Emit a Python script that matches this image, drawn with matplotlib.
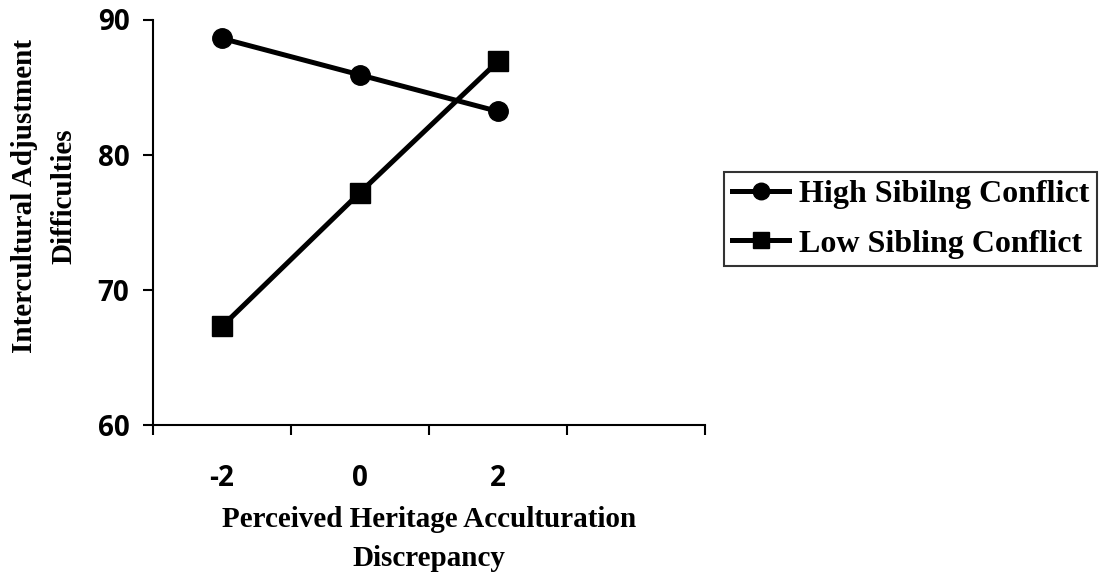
import matplotlib
matplotlib.use("Agg")
import matplotlib.pyplot as plt

# data
categories = ["-2", "0", "2"]
high_conflict = [88.6, 85.9, 83.2]
low_conflict = [67.3, 77.2, 86.9]
y_ticks = [60, 70, 80, 90]

serif = "Liberation Serif"
sans = "Open Sans"

fig = plt.figure(figsize=(11.12, 5.81), dpi=100)
ax = fig.add_axes([153 / 1112, 1 - 425 / 581, (705 - 153) / 1112, (425 - 19.5) / 581])

x = list(range(1, len(categories) + 1))
ax.plot(x, high_conflict, color="black", lw=3.6, marker="o", ms=14,
        label="High Sibilng Conflict")
ax.plot(x, low_conflict, color="black", lw=3.6, marker="s", ms=14,
        label="Low Sibling Conflict")

# category axis with one empty slot, ticks between categories
ax.set_xlim(0.5, 4.5)
ax.set_xticks([0.5, 1.5, 2.5, 3.5, 4.5])
ax.set_xticklabels([])
ax.set_xticks(x, minor=True)
ax.set_xticklabels(categories, minor=True, fontfamily=sans,
                   fontweight="bold", fontsize=20)
ax.tick_params(axis="x", which="minor", length=0, pad=28)
ax.tick_params(axis="x", which="major", length=7, width=1.5, direction="out")

ax.set_ylim(60, 90)
ax.set_yticks(y_ticks)
ax.set_yticklabels([str(v) for v in y_ticks], fontfamily=sans,
                   fontweight="bold", fontsize=20)
ax.tick_params(axis="y", length=7, width=1.5, direction="out", pad=10)

for side in ["top", "right"]:
    ax.spines[side].set_visible(False)
for side in ["left", "bottom"]:
    ax.spines[side].set_linewidth(1.5)

fig.text(429 / 1112, 1 - 539 / 581, "Perceived Heritage Acculturation\nDiscrepancy",
         ha="center", va="center", fontfamily=serif, fontweight="bold",
         fontsize=21, multialignment="center", linespacing=1.6)
fig.text(44.5 / 1112, 1 - 196 / 581, "Intercultural Adjustment\nDifficulties",
         ha="center", va="center", rotation=90, fontfamily=serif,
         fontweight="bold", fontsize=21, multialignment="center", linespacing=1.6)

leg = ax.legend(loc="upper left", bbox_to_anchor=(724 / 1112, 1 - 172 / 581),
                bbox_transform=fig.transFigure, borderaxespad=0,
                prop={"family": serif, "weight": "bold", "size": 23},
                frameon=True, fancybox=False, handlelength=1.8,
                handletextpad=0.3, borderpad=0.25, labelspacing=0.62,
                markerscale=0.85)
leg.get_frame().set_edgecolor("black")
leg.get_frame().set_linewidth(1.5)

fig.savefig("out.png", dpi=100)
